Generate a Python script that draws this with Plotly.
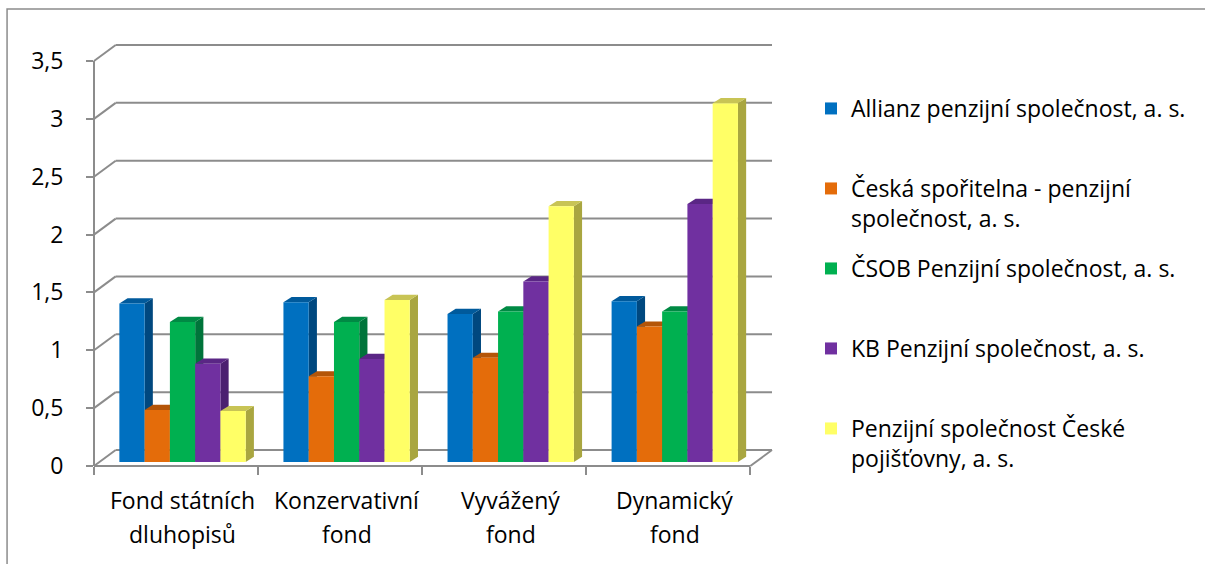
import plotly.graph_objects as go

# ---- data ----
categories = ["Fond státních dluhopisů", "Konzervativní fond", "Vyvážený fond", "Dynamický fond"]
category_lines = [["Fond státních", "dluhopisů"], ["Konzervativní", "fond"],
                  ["Vyvážený", "fond"], ["Dynamický", "fond"]]
series_names = ["Allianz penzijní společnost, a. s.",
                "Česká spořitelna - penzijní<br>společnost, a. s.",
                "ČSOB Penzijní společnost, a. s.",
                "KB Penzijní společnost, a. s.",
                "Penzijní společnost České<br>pojišťovny, a. s."]
allianz = [1.37, 1.38, 1.28, 1.39]
ceska_sporitelna = [0.45, 0.74, 0.90, 1.17]
csob = [1.21, 1.21, 1.30, 1.30]
kb = [0.85, 0.89, 1.56, 2.23]
ceska_pojistovna = [0.44, 1.40, 2.21, 3.10]
y_tick_vals = [0, 0.5, 1, 1.5, 2, 2.5, 3, 3.5]
y_tick_text = ["0", "0,5", "1", "1,5", "2", "2,5", "3", "3,5"]

series = [allianz, ceska_sporitelna, csob, kb, ceska_pojistovna]
colors = ["#0070C0", "#E46C0A", "#00B050", "#7030A0", "#FFFF66"]
side_colors = ["#00487F", "#9E4A06", "#00743A", "#4B2070", "#A9A640"]
top_colors = ["#005A9C", "#B45508", "#008A44", "#5A2685", "#C8C455"]

FONT = "Open Sans"
FS = 23
W, H = 1205, 564
GRID = "#8C8C8C"
bargap = 0.23

# layout geometry (pixels)
ncat = len(categories)
YTOP = y_tick_vals[-1]
L, B = 94, 466
PXY = 115.7               # px per y unit
PXX = 164.2               # px per category
gdx, gdy = 21.7 / PXX, 16 / PXY   # back-wall (depth) offset
xmin, xmax = -0.5, ncat - 0.5 + gdx
ymin, ymax = 0, YTOP + gdy
R = L + PXX * (xmax - xmin)
T = B - PXY * (ymax - ymin)

def px_(xd): return (xd - xmin) / (xmax - xmin)
def py_(yd): return (yd - ymin) / (ymax - ymin)

# bar placement inside each category (bars sit slightly back into the depth)
n = len(series)
gw = 1 - bargap
w = gw / n
depth_shift = 6.5 / PXX
depth_base = 4 / PXY

fig = go.Figure()
xs = list(range(ncat))
for j, (name, vals) in enumerate(zip(series_names, series)):
    fig.add_trace(go.Bar(
        x=xs, y=vals, name=name, marker=dict(color=colors[j], line=dict(width=0)),
        offset=-gw / 2 + j * w + depth_shift, width=w, base=depth_base,
        legend="legend" if j == 0 else f"legend{j + 1}", showlegend=True,
        hovertemplate="%{x}: %{y}<extra>" + name + "</extra>"))

shapes = []
gl = dict(color=GRID, width=2)
# back-wall gridlines with diagonal connectors to the front axis
for v in y_tick_vals:
    shapes.append(dict(type="line", xref="paper", yref="paper", layer="below",
                       x0=px_(-0.5), y0=py_(v), x1=px_(-0.5 + gdx), y1=py_(v + gdy), line=gl))
    shapes.append(dict(type="line", xref="paper", yref="paper", layer="below",
                       x0=px_(-0.5 + gdx), y0=py_(v + gdy), x1=px_(ncat - 0.5 + gdx), y1=py_(v + gdy),
                       line=gl))
# floor right edge
shapes.append(dict(type="line", xref="paper", yref="paper", layer="below",
                   x0=px_(ncat - 0.5), y0=py_(0), x1=px_(ncat - 0.5 + gdx), y1=py_(gdy), line=gl))
# front axes
shapes.append(dict(type="line", xref="paper", yref="paper", layer="above",
                   x0=px_(-0.5), y0=py_(0), x1=px_(ncat - 0.5), y1=py_(0), line=gl))
shapes.append(dict(type="line", xref="paper", yref="paper", layer="above",
                   x0=px_(-0.5), y0=py_(0), x1=px_(-0.5), y1=py_(YTOP), line=gl))

# pseudo-3D side and top faces derived from the data
dx, dy = 0.05, 0.045
for j, vals in enumerate(series):
    for i, v in enumerate(vals):
        x0 = i - gw / 2 + j * w + depth_shift
        x1 = x0 + w
        b0, top = depth_base, depth_base + v
        shapes.append(dict(type="path", xref="x", yref="y", layer="between",
                           path=f"M{x1},{b0} L{x1 + dx},{b0 + dy} L{x1 + dx},{top + dy} L{x1},{top} Z",
                           fillcolor=side_colors[j], line=dict(width=0)))
        shapes.append(dict(type="path", xref="x", yref="y", layer="between",
                           path=f"M{x0},{top} L{x0 + dx},{top + dy} L{x1 + dx},{top + dy} L{x1},{top} Z",
                           fillcolor=top_colors[j], line=dict(width=0)))

# outer chart border
def bx(p): return (p - L) / (R - L)
def by(p): return (B - p) / (B - T)
shapes.append(dict(type="rect", xref="paper", yref="paper", layer="above",
                   x0=bx(7), x1=bx(1220), y0=by(580), y1=by(9),
                   line=dict(color="#8C8C8C", width=1.5), fillcolor="rgba(0,0,0,0)"))

annotations = []
for i, lines in enumerate(category_lines):
    for k, t in enumerate(lines):
        annotations.append(dict(x=i + depth_shift, xref="x", y=0, yref="paper", yanchor="middle",
                                yshift=-34 - 34 * k, text=t, showarrow=False,
                                font=dict(family=FONT, size=FS, color="#000")))

legend_tops = [113, 193, 273, 353, 433]
legends = {}
for j, top in enumerate(legend_tops):
    key = "legend" if j == 0 else f"legend{j + 1}"
    legends[key] = dict(x=811 / W, xref="container", xanchor="left",
                        y=1 - (top - 26) / H, yref="container", yanchor="top",
                        bgcolor="rgba(0,0,0,0)", valign="top", itemwidth=30,
                        font=dict(family=FONT, size=FS, color="#000"))

fig.update_layout(
    width=W, height=H, barmode="overlay",
    showlegend=True,
    margin=dict(l=L, r=W - R, t=T, b=H - B, pad=0),
    paper_bgcolor="white", plot_bgcolor="white",
    font=dict(family=FONT, size=FS, color="#000"),
    xaxis=dict(range=[xmin, xmax], showticklabels=False,
               showgrid=False, zeroline=False, showline=False,
               ticks="", tickvals=xs,
               minor=dict(tickvals=[i - 0.5 for i in range(ncat + 1)],
                          ticks="outside", ticklen=8, tickcolor=GRID, tickwidth=2)),
    yaxis=dict(range=[ymin, ymax], tickvals=y_tick_vals, ticktext=y_tick_text,
               showgrid=False, zeroline=False, showline=False,
               ticks="outside", ticklen=7, tickcolor=GRID, tickwidth=2,
               ticklabelstandoff=18,
               tickfont=dict(family=FONT, size=FS, color="#000")),
    shapes=shapes, annotations=annotations,
    **legends,
)

fig.write_html("out.html")
